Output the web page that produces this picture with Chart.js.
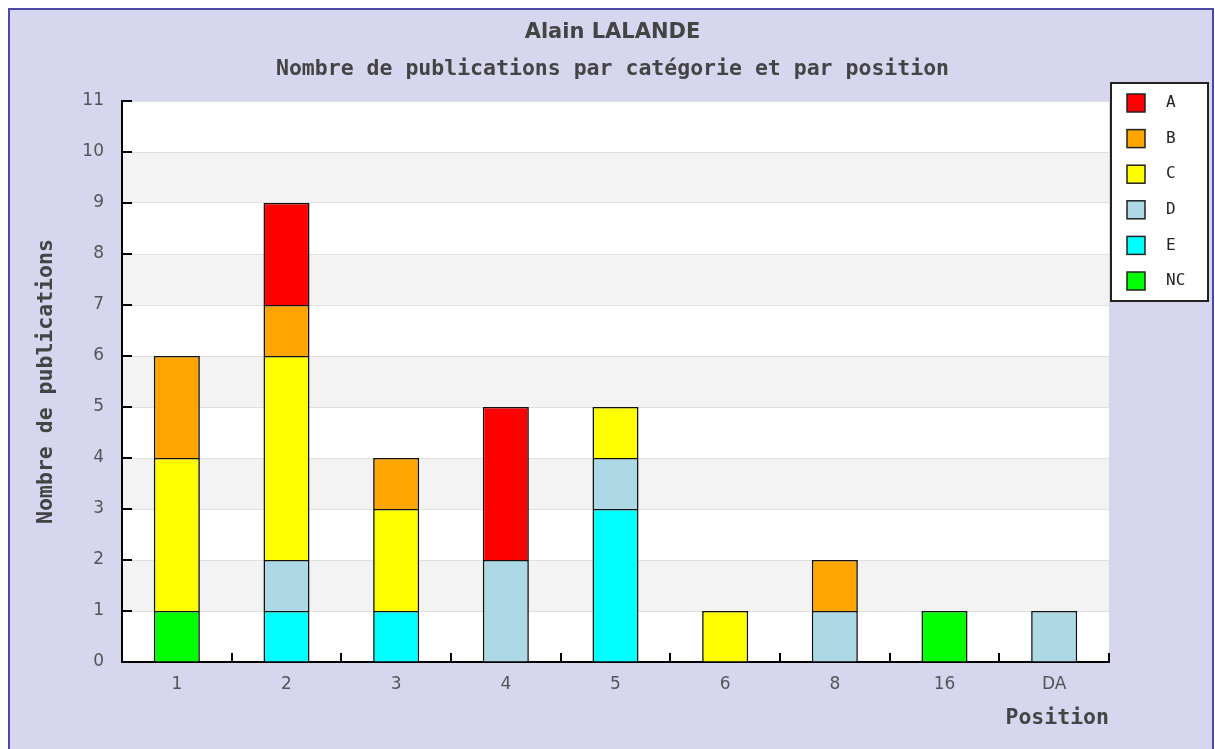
<!DOCTYPE html>
<html>
<head>
<meta charset="utf-8">
<script src="https://cdn.jsdelivr.net/npm/chart.js@4.4.1/dist/chart.umd.min.js"></script>
<style>
  html, body { margin: 0; padding: 0; background: #fff; }
  #wrap { width: 1215px; height: 749px; }
</style>
</head>
<body>
<div id="wrap"><canvas id="myChart" width="1215" height="749"></canvas></div>
<script>
// Positions (axe X)
var positions = ['1', '2', '3', '4', '5', '6', '8', '16', 'DA'];

// Nombre de publications par catégorie, pour chaque position
var catA  = [0, 2, 0, 3, 0, 0, 0, 0, 0];
var catB  = [2, 1, 1, 0, 0, 0, 1, 0, 0];
var catC  = [3, 4, 2, 0, 1, 1, 0, 0, 0];
var catD  = [0, 1, 0, 2, 1, 0, 1, 0, 1];
var catE  = [0, 1, 1, 0, 3, 0, 0, 0, 0];
var catNC = [1, 0, 0, 0, 0, 0, 0, 1, 0];

var yTicks = [0, 1, 2, 3, 4, 5, 6, 7, 8, 9, 10, 11];

var monoFont = "'DejaVu Sans Mono', monospace";
var sansFont = "'DejaVu Sans', sans-serif";

// Fond lavande, cadre, zone blanche et bandes grises alternées
var fondPlugin = {
    id: 'fond',
    beforeDraw: function (chart) {
        var ctx = chart.ctx;
        var a = chart.chartArea;
        var y = chart.scales.y;
        ctx.save();
        ctx.fillStyle = '#ffffff';
        ctx.fillRect(0, 0, chart.width, chart.height);
        ctx.fillStyle = '#d6d6ee';
        ctx.fillRect(9, 9, chart.width - 11, chart.height);
        ctx.strokeStyle = '#4a4aa0';
        ctx.lineWidth = 2;
        ctx.strokeRect(9, 9, chart.width - 11, chart.height + 10);
        ctx.fillStyle = '#ffffff';
        ctx.fillRect(a.left, a.top, a.right - a.left, a.bottom - a.top);
        ctx.fillStyle = '#f3f3f3';
        for (var i = 1; i < yTicks.length - 1; i += 2) {
            var top = y.getPixelForValue(yTicks[i + 1]);
            var bot = y.getPixelForValue(yTicks[i]);
            ctx.fillRect(a.left, top, a.right - a.left, bot - top);
        }
        ctx.restore();
    },
    // petits traits de graduation vers l'intérieur
    afterDraw: function (chart) {
        var ctx = chart.ctx;
        var a = chart.chartArea;
        var x = chart.scales.x;
        var y = chart.scales.y;
        ctx.save();
        ctx.strokeStyle = '#000';
        ctx.lineWidth = 2;
        ctx.beginPath();
        yTicks.forEach(function (v) {
            var py = Math.round(y.getPixelForValue(v));
            ctx.moveTo(a.left, py);
            ctx.lineTo(a.left + 10, py);
        });
        for (var i = 0; i < positions.length; i++) {
            var px;
            if (i < positions.length - 1) {
                px = (x.getPixelForTick(i) + x.getPixelForTick(i + 1)) / 2;
            } else {
                px = a.right;
            }
            px = Math.round(px);
            ctx.moveTo(px, a.bottom);
            ctx.lineTo(px, a.bottom - 9);
        }
        ctx.stroke();
        ctx.restore();
    }
};

// Légende encadrée à droite (A en haut, NC en bas)
var legendePlugin = {
    id: 'legende',
    afterDraw: function (chart) {
        var ctx = chart.ctx;
        var sets = chart.data.datasets.slice().reverse();
        var bx = 1111, by = 83, bw = 97, bh = 218;
        ctx.save();
        ctx.fillStyle = '#ffffff';
        ctx.fillRect(bx, by, bw, bh);
        ctx.strokeStyle = '#222';
        ctx.lineWidth = 2;
        ctx.strokeRect(bx, by, bw, bh);
        ctx.font = '16px ' + monoFont;
        ctx.textBaseline = 'middle';
        ctx.textAlign = 'left';
        sets.forEach(function (ds, i) {
            var cy = 103 + i * 35.6;
            ctx.fillStyle = ds.backgroundColor;
            ctx.fillRect(1127, cy - 9, 18, 18);
            ctx.lineWidth = 1.5;
            ctx.strokeStyle = '#222';
            ctx.strokeRect(1127, cy - 9, 18, 18);
            ctx.fillStyle = '#222';
            ctx.fillText(ds.label, 1166, cy);
        });
        ctx.restore();
    }
};

function serie(label, data, color) {
    return {
        label: label,
        data: data,
        backgroundColor: color,
        borderColor: '#111',
        borderWidth: 1.6,
        borderSkipped: 'start',
        barPercentage: 0.42,
        categoryPercentage: 1.0
    };
}

const config = {
    type: 'bar',
    data: {
        labels: positions,
        datasets: [
            serie('NC', catNC, '#00ff00'),
            serie('E', catE, '#00ffff'),
            serie('D', catD, '#add8e6'),
            serie('C', catC, '#ffff00'),
            serie('B', catB, '#ffa500'),
            serie('A', catA, '#ff0000')
        ]
    },
    options: {
        responsive: false,
        animation: false,
        devicePixelRatio: 1,
        layout: { padding: { top: 9, right: 0, bottom: 0, left: 10 } },
        plugins: {
            legend: { display: false },
            tooltip: { enabled: false },
            title: {
                display: true,
                text: 'Alain LALANDE',
                color: '#444',
                font: { family: sansFont, size: 21, weight: 'bold' },
                padding: { top: 11, bottom: 6 }
            },
            subtitle: {
                display: true,
                text: 'Nombre de publications par catégorie et par position',
                color: '#444',
                font: { family: monoFont, size: 21.5, weight: 'bold' },
                padding: { top: 5.5, bottom: 18.5 }
            }
        },
        scales: {
            x: {
                stacked: true,
                grid: { display: false, drawTicks: false },
                border: { color: '#000', width: 2 },
                ticks: { color: '#555', font: { family: sansFont, size: 17 }, padding: 12 },
                title: {
                    display: true,
                    text: 'Position',
                    align: 'end',
                    color: '#444',
                    font: { family: monoFont, size: 21.5, weight: 'bold' },
                    padding: { top: 0, bottom: 18 }
                },
                afterFit: function (s) { s.height = 87; }
            },
            y: {
                stacked: true,
                min: 0,
                max: 11,
                afterBuildTicks: function (s) {
                    s.ticks = yTicks.map(function (v) { return { value: v }; });
                },
                grid: { color: '#e0e0e0', lineWidth: 1, drawTicks: false },
                border: { color: '#000', width: 2 },
                ticks: { color: '#555', font: { family: sansFont, size: 17 }, padding: 18 },
                title: {
                    display: true,
                    text: 'Nombre de publications',
                    color: '#444',
                    font: { family: monoFont, size: 21.5, weight: 'bold' },
                    padding: { top: 24, bottom: 0 }
                },
                afterFit: function (s) { s.width = 112; }
            },
            // axe vide à droite : réserve la place de la légende
            marge: {
                type: 'linear',
                position: 'right',
                grid: { display: false, drawTicks: false },
                border: { display: false },
                ticks: { display: false },
                afterFit: function (s) { s.width = 106; }
            }
        }
    },
    plugins: [fondPlugin, legendePlugin]
};

const ctx = document.getElementById('myChart').getContext('2d');
var chart = new Chart(ctx, config);
</script>
</body>
</html>
